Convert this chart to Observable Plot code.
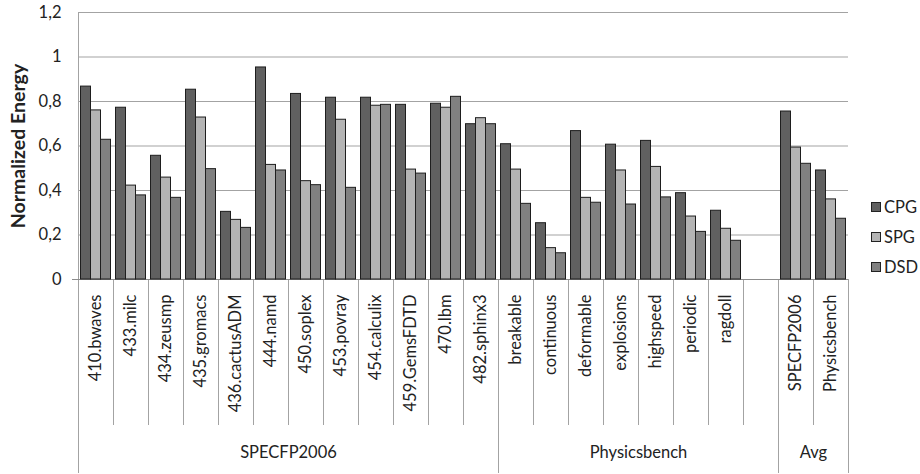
<!DOCTYPE html>
<html>
<head>
<meta charset="utf-8">
<script src="https://cdn.jsdelivr.net/npm/d3@7"></script>
<script src="https://cdn.jsdelivr.net/npm/@observablehq/plot@0.6"></script>
<style>
  body { margin: 0; background: #fff; }
  #wrap { position: relative; width: 920px; height: 474px; }
  #legend { position: absolute; left: 871px; top: 192px; font: 16.5px Lato, sans-serif; color: #222; }
  #legend .item { display: flex; align-items: center; height: 30px; }
  #legend .sw { width: 8px; height: 8px; border: 1px solid #222; margin-right: 3px; }
</style>
</head>
<body>
<div id="wrap"></div>
<script>
// Categories (x), a blank spacer " " separates Physicsbench from Avg
const categories = [
  "410.bwaves", "433.milc", "434.zeusmp", "435.gromacs", "436.cactusADM", "444.namd",
  "450.soplex", "453.povray", "454.calculix", "459.GemsFDTD", "470.lbm", "482.sphinx3",
  "breakable", "continuous", "deformable", "explosions", "highspeed", "periodic", "ragdoll",
  " ", "SPECFP2006 ", "Physicsbench "
];
// Groups: name, first category index, number of categories
const groupNames = ["SPECFP2006", "Physicsbench", "Avg"];
const groupStart = [0, 12, 20];
const groupCount = [12, 8, 2];

const series = ["CPG", "SPG", "DSD"];
const seriesColors = ["#606060", "#b4b4b4", "#808080"];

const cpg = [0.867, 0.772, 0.556, 0.853, 0.304, 0.953, 0.834, 0.817, 0.817, 0.785, 0.790, 0.698,
             0.608, 0.253, 0.667, 0.606, 0.623, 0.388, 0.309, null, 0.755, 0.490];
const spg = [0.760, 0.422, 0.458, 0.728, 0.268, 0.515, 0.442, 0.718, 0.781, 0.494, 0.772, 0.725,
             0.494, 0.141, 0.367, 0.490, 0.506, 0.283, 0.228, null, 0.593, 0.360];
const dsd = [0.628, 0.378, 0.367, 0.496, 0.232, 0.490, 0.424, 0.412, 0.785, 0.476, 0.821, 0.698,
             0.340, 0.118, 0.345, 0.337, 0.369, 0.214, 0.174, null, 0.520, 0.273];

const yTicks = [0, 0.2, 0.4, 0.6, 0.8, 1, 1.2];
const yLabel = "Normalized Energy";

// ---- build long table
const seriesValues = [cpg, spg, dsd];
const rows = [];
series.forEach((s, si) => categories.forEach((c, i) => {
  const v = seriesValues[si][i];
  if (v != null) rows.push({cat: c, series: s, value: v});
}));

const half = 17.5; // half of a category band (35px)
const barInsets = {CPG: [2.5, 22.5], SPG: [12.5, 12.5], DSD: [22.5, 2.5]};

const groups = groupNames.map((name, g) => ({
  name,
  start: categories[groupStart[g]],
  mid: categories[groupStart[g] + groupCount[g] / 2]
}));
const lastCat = categories[categories.length - 1];
const lineColor = "#a3a3a3";
const textColor = "#222";

const chart = Plot.plot({
  width: 920,
  height: 474,
  marginLeft: 78,
  marginRight: 72,
  marginTop: 12,
  marginBottom: 195,
  style: {fontFamily: "Lato, sans-serif", fontSize: "16.5px", color: textColor, background: "#fff"},
  x: {domain: categories, padding: 0, axis: null},
  y: {domain: [0, 1.2], ticks: yTicks, tickFormat: d => String(d).replace(".", ","), tickSize: 0, tickPadding: 17, label: null},
  color: {domain: series, range: seriesColors},
  marks: [
    Plot.ruleY(yTicks, {stroke: lineColor}),
    // y axis line
    Plot.ruleX([categories[0]], {x: d => d, dx: -half, stroke: lineColor}),
    // category separators below the axis
    Plot.ruleX(categories, {x: d => d, dx: -half, y1: 0, y2: 0, insetBottom: -146, stroke: lineColor}),
    Plot.ruleX([lastCat], {x: d => d, dx: half, y1: 0, y2: 0, insetBottom: -194, stroke: lineColor}),
    // group separators
    Plot.ruleX(groups, {x: "start", dx: -half, y1: 0, y2: 0, insetBottom: -194, stroke: lineColor}),
    // x axis line
    Plot.ruleY([0], {insetLeft: -6, stroke: "#8c8c8c"}),
    ...series.map(s => Plot.barY(rows.filter(d => d.series === s), {
      x: "cat", y: "value", fill: "series", stroke: "#1e1e1e", strokeWidth: 1,
      insetLeft: barInsets[s][0], insetRight: barInsets[s][1]
    })),
    // category labels
    Plot.text(categories, {x: d => d, frameAnchor: "bottom", dy: 15, rotate: -90,
      textAnchor: "end", lineAnchor: "middle", text: d => d.trim(), fill: textColor}),
    // group labels
    Plot.text(groups, {x: "mid", dx: -half, frameAnchor: "bottom", dy: 178, text: "name", fill: textColor}),
    // y label
    Plot.text([yLabel], {frameAnchor: "left", dx: -60, rotate: -90, text: d => d,
      textAnchor: "middle", lineAnchor: "middle",
      fontWeight: "bold", fontSize: 19.5, fill: textColor})
  ]
});

const wrap = document.getElementById("wrap");
wrap.appendChild(chart);

const legend = document.createElement("div");
legend.id = "legend";
series.forEach((s, i) => {
  const item = document.createElement("div");
  item.className = "item";
  const sw = document.createElement("span");
  sw.className = "sw";
  sw.style.background = seriesColors[i];
  const lab = document.createElement("span");
  lab.textContent = s;
  item.appendChild(sw);
  item.appendChild(lab);
  legend.appendChild(item);
});
wrap.appendChild(legend);
</script>
</body>
</html>
